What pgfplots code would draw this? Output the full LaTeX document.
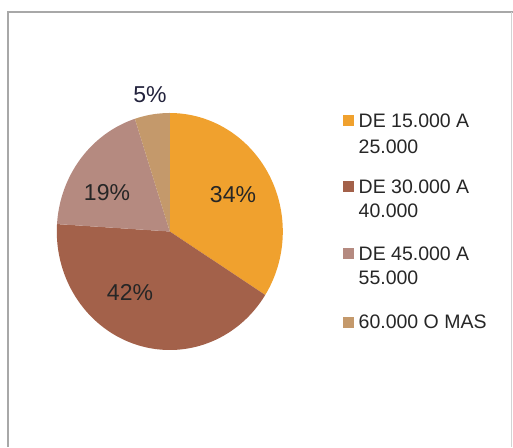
\documentclass[border=0pt]{standalone}
\usepackage{fontspec}
\setmainfont{Liberation Sans}
\usepackage{pgfplots}
\pgfplotsset{compat=1.18}
\definecolor{cA}{HTML}{F0A12E}
\definecolor{cB}{HTML}{A3614A}
\definecolor{cC}{HTML}{B58A80}
\definecolor{cD}{HTML}{C4996B}
\definecolor{txt}{HTML}{262626}
\definecolor{frm}{HTML}{A8A8A8}
\begin{document}
\begin{tikzpicture}
\begin{axis}[width=513pt,height=447pt,scale only axis,
  xmin=0,xmax=513,ymin=0,ymax=447,hide axis,clip=true]
\def\cx{169.8}\def\cy{215.5}\def\rx{113}\def\ry{118.5}
% percentages: 34, 42, 19, 5 (clockwise from 12 o'clock)
% angles: 90 -> -32.4 -> -183.6 -> -252 -> -270
\addplot[fill=cA,draw=none,domain=-32.4:90,samples=90,variable=\t]
  ({\cx+\rx*cos(t)},{\cy+\ry*sin(t)}) -- (axis cs:169.8,215.5) -- cycle;
\addplot[fill=cB,draw=none,domain=-183.6:-32.4,samples=110,variable=\t]
  ({\cx+\rx*cos(t)},{\cy+\ry*sin(t)}) -- (axis cs:169.8,215.5) -- cycle;
\addplot[fill=cC,draw=none,domain=-252:-183.6,samples=60,variable=\t]
  ({\cx+\rx*cos(t)},{\cy+\ry*sin(t)}) -- (axis cs:169.8,215.5) -- cycle;
\addplot[fill=cD,draw=none,domain=-270:-252,samples=20,variable=\t]
  ({\cx+\rx*cos(t)},{\cy+\ry*sin(t)}) -- (axis cs:169.8,215.5) -- cycle;
% frame
\addplot[draw=frm,line width=2pt] coordinates {(7.5,0) (7.5,434.5) (513,434.5)};
\addplot[draw=frm!50,line width=1pt] coordinates {(511.5,434.5) (511.5,0)};
% legend squares
\addplot[fill=cA,draw=none] coordinates {(343,320.5) (354,320.5) (354,331.5) (343,331.5)} -- cycle;
\addplot[fill=cB,draw=none] coordinates {(343,254.5) (354,254.5) (354,265.5) (343,265.5)} -- cycle;
\addplot[fill=cC,draw=none] coordinates {(343,187.5) (354,187.5) (354,198.5) (343,198.5)} -- cycle;
\addplot[fill=cD,draw=none] coordinates {(343,119.5) (354,119.5) (354,130.5) (343,130.5)} -- cycle;
% labels
\begin{scope}[every node/.style={text=txt,inner sep=0pt}]
\node[font=\fontsize{23}{27}\selectfont] at (axis cs:233,252) {34\%};
\node[font=\fontsize{23}{27}\selectfont] at (axis cs:107,254) {19\%};
\node[font=\fontsize{23}{27}\selectfont] at (axis cs:130,154) {42\%};
\node[font=\fontsize{23}{27}\selectfont,text=txt!90!blue] at (axis cs:150,352) {5\%};
\node[font=\fontsize{19.5}{23}\selectfont,anchor=base west] at (axis cs:358.5,319.2) {DE 15.000 A};
\node[font=\fontsize{19.5}{23}\selectfont,anchor=base west] at (axis cs:358.5,293.2) {25.000};
\node[font=\fontsize{19.5}{23}\selectfont,anchor=base west] at (axis cs:358.5,253.2) {DE 30.000 A};
\node[font=\fontsize{19.5}{23}\selectfont,anchor=base west] at (axis cs:358.5,229.2) {40.000};
\node[font=\fontsize{19.5}{23}\selectfont,anchor=base west] at (axis cs:358.5,186.2) {DE 45.000 A};
\node[font=\fontsize{19.5}{23}\selectfont,anchor=base west] at (axis cs:358.5,162.2) {55.000};
\node[font=\fontsize{19.5}{23}\selectfont,anchor=base west] at (axis cs:358.5,118.2) {60.000 O MAS};
\end{scope}
\end{axis}
\pgfresetboundingbox
\useasboundingbox (current axis.south west) rectangle (current axis.north east);
\end{tikzpicture}
\end{document}
